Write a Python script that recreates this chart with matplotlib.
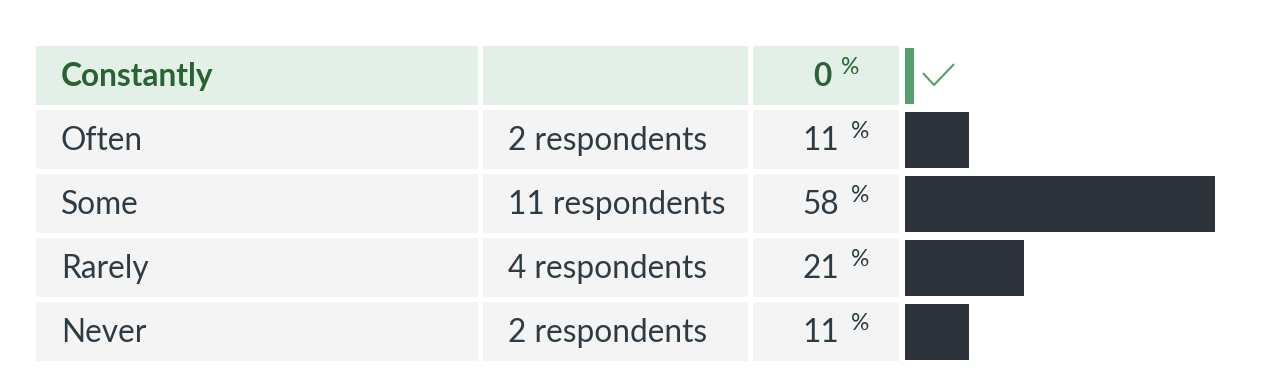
import numpy as np
import matplotlib.pyplot as plt
from matplotlib.path import Path

plt.rcParams['font.family'] = ['Lato', 'DejaVu Sans']

# survey answers
answers = ['Constantly', 'Often', 'Some', 'Rarely', 'Never']
counts = [0, 2, 11, 4, 2]
correct = 0  # index of the highlighted (correct) answer

total = sum(counts)
pcts = [100.0 * c / total for c in counts]
pct_labels = ['%d' % round(p) for p in pcts]
count_labels = ['' if i == correct else '%d respondents' % c
                for i, c in enumerate(counts)]

# colours
TEXT = '#2d3b45'
GREEN_TEXT = '#2a6332'
GREEN_BG = '#e3f0e7'
ROW_BG = '#f4f4f4'
BAR = '#2d333b'
GREEN_BAR = '#559f6c'

W, H = 1266, 386
fig = plt.figure(figsize=(W / 100, H / 100), dpi=100)

# table part, laid out in pixels
ax = fig.add_axes([0, 0, 1, 1])
ax.set_xlim(0, W)
ax.set_ylim(H, 0)
ax.axis('off')

row_top = 46
row_h = 59
pitch = 64
col_left = [36, 483, 753]
col_right = [478, 748, 899]

n = len(answers)
yc = row_top + row_h / 2 + pitch * np.arange(n)
for l, r in zip(col_left, col_right):
    ax.barh(yc, r - l, left=l, height=row_h,
            color=[GREEN_BG if i == correct else ROW_BG for i in range(n)],
            linewidth=0)

FS = 22.8
for i in range(n):
    hl = i == correct
    col = GREEN_TEXT if hl else TEXT
    wt = 'bold' if hl else 'normal'
    base = yc[i] + 10.5
    ax.text(61, base, answers[i], fontsize=FS, color=col, fontweight=wt,
            va='baseline', ha='left')
    ax.text(508, base, count_labels[i], fontsize=FS, color=col,
            va='baseline', ha='left')
    xn = 832 if hl else 839
    gap = 9 if hl else 12
    ax.text(xn, base, pct_labels[i], fontsize=FS, color=col, fontweight=wt,
            va='baseline', ha='right')
    ax.text(xn + gap, yc[i] - 1.5, '%', fontsize=16.5, color=col,
            va='baseline', ha='left')

# bar part, in percent
px_per_pct = 5.193
pad = 1.8  # minimum bar width
bx = fig.add_axes([905 / W, 0, (W - 905) / W, 1])
bx.set_xlim(0, (W - 905) / px_per_pct)
bx.set_ylim(H, 0)
bx.axis('off')
bx.barh(yc, np.array(pcts) + pad, height=56,
        color=[GREEN_BAR if i == correct else BAR for i in range(n)],
        linewidth=0)

# check mark next to the correct answer
check = Path([(-1.0, 0.22), (-0.29, -0.55), (1.0, 0.80)],
             [Path.MOVETO, Path.LINETO, Path.LINETO])
bx.plot([pcts[correct] + pad + 4.65], [yc[correct]], marker=check,
        markersize=22.3, markerfacecolor='none', markeredgecolor=GREEN_BAR,
        markeredgewidth=1.5, linestyle='none')

fig.savefig('out.png', dpi=100)
